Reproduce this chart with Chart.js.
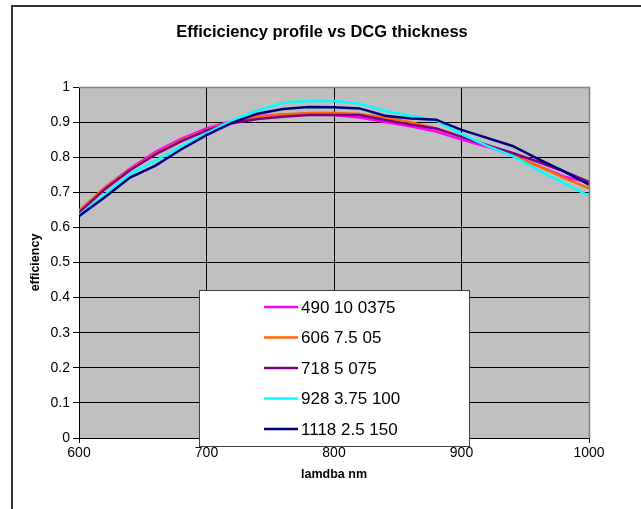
<!DOCTYPE html>
<html>
<head>
<meta charset="utf-8">
<script src="https://cdn.jsdelivr.net/npm/chart.js@4/dist/chart.umd.min.js"></script>
<style>
  html, body { margin: 0; padding: 0; background: #ffffff; }
  #wrap { position: relative; width: 641px; height: 509px; }
</style>
</head>
<body>
<div id="wrap"><canvas id="c" width="641" height="509"></canvas></div>
<script>
// ---- data ----
const chartTitle = 'Efficiciency profile vs DCG thickness';
const xTitle = 'lamdba nm';
const yTitle = 'efficiency';
const wavelengths = [600, 620, 640, 660, 680, 700, 720, 740, 760, 780, 800, 820, 840, 860, 880, 900, 920, 940, 960, 980, 1000];
const seriesLabels = ["490 10 0375", "606 7.5 05", "718 5 075", "928 3.75 100", "1118 2.5 150"];
const s490  = [0.645, 0.713, 0.768, 0.815, 0.852, 0.882, 0.903, 0.917, 0.922, 0.923, 0.920, 0.913, 0.900, 0.888, 0.873, 0.850, 0.830, 0.806, 0.775, 0.745, 0.728];
const s606  = [0.648, 0.712, 0.765, 0.810, 0.848, 0.878, 0.900, 0.915, 0.922, 0.926, 0.926, 0.923, 0.913, 0.900, 0.882, 0.858, 0.835, 0.805, 0.775, 0.742, 0.711];
const s718  = [0.642, 0.708, 0.763, 0.808, 0.845, 0.876, 0.897, 0.909, 0.915, 0.920, 0.920, 0.920, 0.906, 0.893, 0.882, 0.858, 0.834, 0.812, 0.787, 0.760, 0.730];
const s928  = [0.635, 0.692, 0.752, 0.790, 0.830, 0.868, 0.905, 0.933, 0.955, 0.960, 0.960, 0.952, 0.932, 0.918, 0.905, 0.866, 0.832, 0.804, 0.764, 0.727, 0.690];
const s1118 = [0.632, 0.685, 0.742, 0.776, 0.822, 0.863, 0.898, 0.924, 0.937, 0.943, 0.942, 0.939, 0.918, 0.910, 0.907, 0.878, 0.855, 0.832, 0.795, 0.760, 0.722];
const xTicks = [600, 700, 800, 900, 1000];
const yTicks = [0, 0.1, 0.2, 0.3, 0.4, 0.5, 0.6, 0.7, 0.8, 0.9, 1];
const seriesValues = [s490, s606, s718, s928, s1118];
const seriesColors = ["#FF00FF", "#FF6600", "#800080", "#00FFFF", "#000080"];

const FONT = "'Liberation Sans', Arial, sans-serif";

function pts(vals) { return wavelengths.map((w, i) => ({ x: w, y: vals[i] })); }

const datasets = seriesValues.map((vals, i) => ({
  label: seriesLabels[i],
  data: pts(vals),
  borderColor: seriesColors[i],
  backgroundColor: seriesColors[i],
  borderWidth: 2.5,
  pointRadius: 0,
  tension: 0,
  fill: false,
  order: seriesValues.length - i
}));

const framePlugin = {
  id: 'frame',
  beforeDraw(chart) {
    const ctx = chart.ctx;
    const a = chart.chartArea;
    ctx.save();
    ctx.fillStyle = '#ffffff';
    ctx.fillRect(0, 0, chart.width, chart.height);
    ctx.strokeStyle = '#333333';
    ctx.lineWidth = 2;
    ctx.strokeRect(12, 6, chart.width + 20, chart.height + 20);
    ctx.fillStyle = '#C0C0C0';
    ctx.fillRect(a.left, a.top, a.right - a.left, a.bottom - a.top);
    // chart title, centred on the whole chart frame
    ctx.fillStyle = '#000000';
    ctx.font = 'bold 16.5px ' + FONT;
    ctx.textAlign = 'center';
    ctx.textBaseline = 'middle';
    ctx.fillText(chartTitle, 322, 32);
    ctx.restore();
  },
  afterDatasetsDraw(chart) {
    const ctx = chart.ctx;
    const a = chart.chartArea;
    ctx.save();
    ctx.strokeStyle = '#808080';
    ctx.lineWidth = 1.5;
    ctx.beginPath();
    ctx.moveTo(a.left, a.top + 0.5);
    ctx.lineTo(a.right + 0.5, a.top + 0.5);
    ctx.lineTo(a.right + 0.5, a.bottom);
    ctx.stroke();
    ctx.restore();
  },
  afterDraw(chart) {
    const ctx = chart.ctx;
    const bx = 199, by = 290, bw = 270, bh = 156;
    ctx.save();
    ctx.fillStyle = '#ffffff';
    ctx.fillRect(bx, by, bw, bh);
    ctx.strokeStyle = '#404040';
    ctx.lineWidth = 1;
    ctx.strokeRect(bx + 0.5, by + 0.5, bw, bh);
    ctx.font = '17px ' + FONT;
    ctx.textBaseline = 'middle';
    ctx.textAlign = 'left';
    chart.data.datasets.forEach((ds, i) => {
      const yy = 307 + i * 30.5;
      ctx.strokeStyle = ds.borderColor;
      ctx.lineWidth = 2.5;
      ctx.beginPath();
      ctx.moveTo(264, yy);
      ctx.lineTo(298, yy);
      ctx.stroke();
      ctx.fillStyle = '#000000';
      ctx.fillText(ds.label, 301, yy + 1);
    });
    ctx.restore();
  }
};

new Chart(document.getElementById('c'), {
  type: 'line',
  data: { datasets },
  plugins: [framePlugin],
  options: {
    responsive: false,
    animation: false,
    events: [],
    layout: { padding: { left: 0, right: 52, top: 87, bottom: 0 } },
    plugins: {
      legend: { display: false },
      tooltip: { enabled: false },
      title: { display: false }
    },
    scales: {
      x: {
        type: 'linear',
        min: 600, max: 1000,
        afterBuildTicks(scale) { scale.ticks = xTicks.map(v => ({ value: v })); },
        afterFit(scale) { scale.height = 71; },
        ticks: {
          color: '#000000',
          font: { family: FONT, size: 14 },
          padding: 2,
          maxRotation: 0,
          callback: v => String(v)
        },
        grid: {
          color: ctx => (ctx.tick && ctx.tick.value === 1000) ? 'rgba(0,0,0,0)' : '#000000',
          lineWidth: 1,
          tickLength: 5,
          tickColor: '#000000',
          drawTicks: true
        },
        border: { display: true, color: '#000000', width: 1 },
        title: {
          display: true,
          text: xTitle,
          color: '#000000',
          font: { family: FONT, size: 12.5, weight: 'bold' },
          padding: { top: 0, bottom: 27 }
        }
      },
      y: {
        type: 'linear',
        min: 0, max: 1,
        afterBuildTicks(scale) { scale.ticks = yTicks.map(v => ({ value: v })); },
        afterFit(scale) { scale.width = 79; },
        ticks: {
          color: '#000000',
          font: { family: FONT, size: 14 },
          padding: 3,
          callback: v => String(Math.round(v * 10) / 10)
        },
        grid: {
          color: ctx => (ctx.tick && ctx.tick.value === 1) ? 'rgba(0,0,0,0)' : '#000000',
          lineWidth: 1,
          tickLength: 6,
          tickColor: '#000000',
          drawTicks: true
        },
        border: { display: true, color: '#000000', width: 1 },
        title: {
          display: true,
          text: yTitle,
          color: '#000000',
          font: { family: FONT, size: 12.5, weight: 'bold' },
          padding: { top: 28, bottom: 0 }
        }
      }
    }
  }
});
</script>
</body>
</html>
